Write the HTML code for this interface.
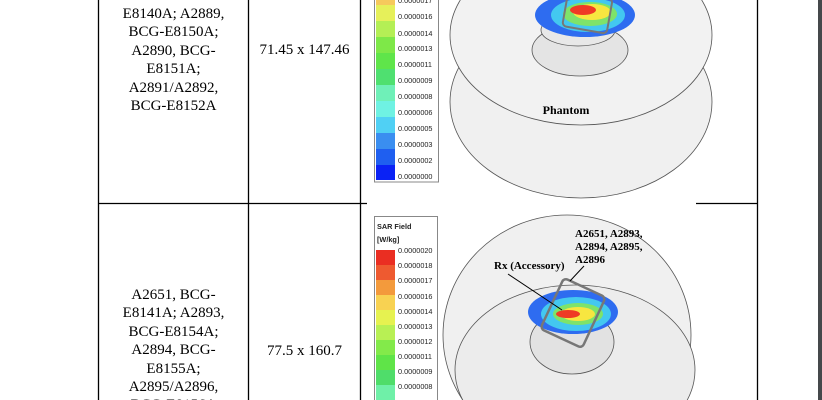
<!DOCTYPE html>
<html><head><meta charset="utf-8"><style>
html,body{margin:0;padding:0;width:822px;height:400px;overflow:hidden;background:#fff;position:relative}
.t{position:absolute;font-family:"Liberation Serif",serif;font-size:15px;color:#000;text-align:center;line-height:18.4px}
</style></head><body>
<div style="position:absolute;left:0;top:0;width:822px;height:400px;overflow:hidden">
<svg width="822" height="400" style="position:absolute;left:0;top:0" xmlns="http://www.w3.org/2000/svg">
<rect x="818" y="0" width="4" height="400" fill="#45484b"/>
<g stroke="#000" stroke-width="1.3">
<line x1="98.5" y1="0" x2="98.5" y2="400"/>
<line x1="248.5" y1="0" x2="248.5" y2="400"/>
<line x1="360.5" y1="0" x2="360.5" y2="400"/>
<line x1="757.5" y1="0" x2="757.5" y2="400"/>
<line x1="98" y1="203.5" x2="367" y2="203.5"/>
<line x1="696" y1="203.5" x2="757" y2="203.5"/>
</g>
<g fill="none" stroke="#555" stroke-width="0.8">
<ellipse cx="581" cy="102" rx="131" ry="96" fill="#f0f0f0"/>
<ellipse cx="581" cy="35" rx="131" ry="90" fill="#f2f2f2"/>
<ellipse cx="580" cy="50" rx="48" ry="26" fill="#e4e4e4"/>
<ellipse cx="578" cy="30" rx="37" ry="16" fill="#e8e8e8"/>
</g>
<ellipse cx="585" cy="15" rx="50" ry="22" fill="#2e6cf0"/>
<ellipse cx="588" cy="15" rx="37" ry="17" fill="#43c8f0"/>
<ellipse cx="590" cy="14" rx="27" ry="12" fill="#7ee36a"/>
<ellipse cx="592" cy="12" rx="19" ry="8" fill="#f7e640"/>
<ellipse cx="583" cy="10" rx="13" ry="5" fill="#ef3a25"/>
<rect x="565" y="-5" width="45" height="35" rx="4" fill="none" stroke="#777" stroke-width="2" transform="rotate(10 587 12)"/>
<text x="566" y="114" font-family="Liberation Serif,serif" font-weight="bold" font-size="12" text-anchor="middle">Phantom</text>
<rect x="374.5" y="-5" width="64" height="187" fill="#fff" stroke="#888"/>
<g>
<rect x="376" y="-5" width="19" height="10" fill="#f6c95c"/>
<rect x="376" y="5" width="19" height="16" fill="#e6f05a"/>
<rect x="376" y="21" width="19" height="16" fill="#b4ef55"/>
<rect x="376" y="37" width="19" height="16" fill="#7ee848"/>
<rect x="376" y="53" width="19" height="16" fill="#5fe54a"/>
<rect x="376" y="69" width="19" height="16" fill="#4fe070"/>
<rect x="376" y="85" width="19" height="16" fill="#6ff0b8"/>
<rect x="376" y="101" width="19" height="16" fill="#6ff2e3"/>
<rect x="376" y="117" width="19" height="16" fill="#50d0f4"/>
<rect x="376" y="133" width="19" height="16" fill="#3a8ef0"/>
<rect x="376" y="149" width="19" height="16" fill="#1f5ff0"/>
<rect x="376" y="165" width="19" height="15" fill="#0a22f5"/>
</g>
<g font-family="Liberation Sans,sans-serif" font-size="7.3" fill="#222">
<text x="398" y="3">0.0000017</text>
<text x="398" y="19">0.0000016</text>
<text x="398" y="36">0.0000014</text>
<text x="398" y="51">0.0000013</text>
<text x="398" y="67">0.0000011</text>
<text x="398" y="83">0.0000009</text>
<text x="398" y="99">0.0000008</text>
<text x="398" y="115">0.0000006</text>
<text x="398" y="131">0.0000005</text>
<text x="398" y="147">0.0000003</text>
<text x="398" y="163">0.0000002</text>
<text x="398" y="179">0.0000000</text>
</g>
<g fill="none" stroke="#555" stroke-width="0.8">
<ellipse cx="567" cy="335" rx="124" ry="120" fill="#f0f0f0"/>
<ellipse cx="575" cy="370" rx="120" ry="85" fill="#ececec"/>
<ellipse cx="572" cy="342" rx="42" ry="32" fill="#e2e2e2"/>
</g>
<ellipse cx="573" cy="312" rx="45" ry="22" fill="#2e6cf0"/>
<ellipse cx="576" cy="314" rx="35" ry="17" fill="#43c8f0"/>
<ellipse cx="578" cy="314" rx="25" ry="11" fill="#7ee36a"/>
<ellipse cx="578" cy="314" rx="17" ry="7" fill="#f7e640"/>
<ellipse cx="568" cy="314" rx="12" ry="4" fill="#ef3a25"/>
<rect x="550" y="285" width="46" height="56" rx="4" fill="none" stroke="#777" stroke-width="2.5" transform="rotate(25 573 313)"/>
<line x1="508" y1="274" x2="562" y2="310" stroke="#000"/>
<line x1="584" y1="266" x2="570" y2="281" stroke="#000"/>
<g font-family="Liberation Serif,serif" font-weight="bold" font-size="11">
<text x="494" y="269">Rx (Accessory)</text>
<text x="575" y="237">A2651, A2893,</text>
<text x="575" y="250">A2894, A2895,</text>
<text x="575" y="263">A2896</text>
</g>
<rect x="374.5" y="216.5" width="63" height="200" fill="#fff" stroke="#888"/>
<g>
<rect x="376" y="250" width="19" height="15" fill="#ea2e22"/>
<rect x="376" y="265" width="19" height="15" fill="#ee5a30"/>
<rect x="376" y="280" width="19" height="15" fill="#f39a3c"/>
<rect x="376" y="295" width="19" height="15" fill="#f8d252"/>
<rect x="376" y="310" width="19" height="15" fill="#e6f250"/>
<rect x="376" y="325" width="19" height="15" fill="#b8f054"/>
<rect x="376" y="340" width="19" height="15" fill="#83ea4a"/>
<rect x="376" y="355" width="19" height="15" fill="#5fe448"/>
<rect x="376" y="370" width="19" height="15" fill="#4fdd6a"/>
<rect x="376" y="385" width="19" height="15" fill="#6ff0a8"/>
</g>
<g font-family="Liberation Sans,sans-serif" font-size="7.3" fill="#222">
<text x="377" y="229" font-weight="bold">SAR Field</text>
<text x="377" y="242" font-weight="bold">[W/kg]</text>
<text x="398" y="253">0.0000020</text>
<text x="398" y="268">0.0000018</text>
<text x="398" y="283">0.0000017</text>
<text x="398" y="299">0.0000016</text>
<text x="398" y="314">0.0000014</text>
<text x="398" y="329">0.0000013</text>
<text x="398" y="344">0.0000012</text>
<text x="398" y="359">0.0000011</text>
<text x="398" y="374">0.0000009</text>
<text x="398" y="389">0.0000008</text>
</g>
</svg>
<div class="t" style="left:99px;top:5px;width:149px">E8140A; A2889,<br>BCG-E8150A;<br>A2890, BCG-<br>E8151A;<br>A2891/A2892,<br>BCG-E8152A</div>
<div class="t" style="left:249px;top:41px;width:111px">71.45 x 147.46</div>
<div class="t" style="left:99px;top:286px;width:149px">A2651, BCG-<br>E8141A; A2893,<br>BCG-E8154A;<br>A2894, BCG-<br>E8155A;<br>A2895/A2896,<br>BCG-E8156A</div>
<div class="t" style="left:249px;top:342px;width:111px">77.5 x 160.7</div>
</div>
</body></html>
